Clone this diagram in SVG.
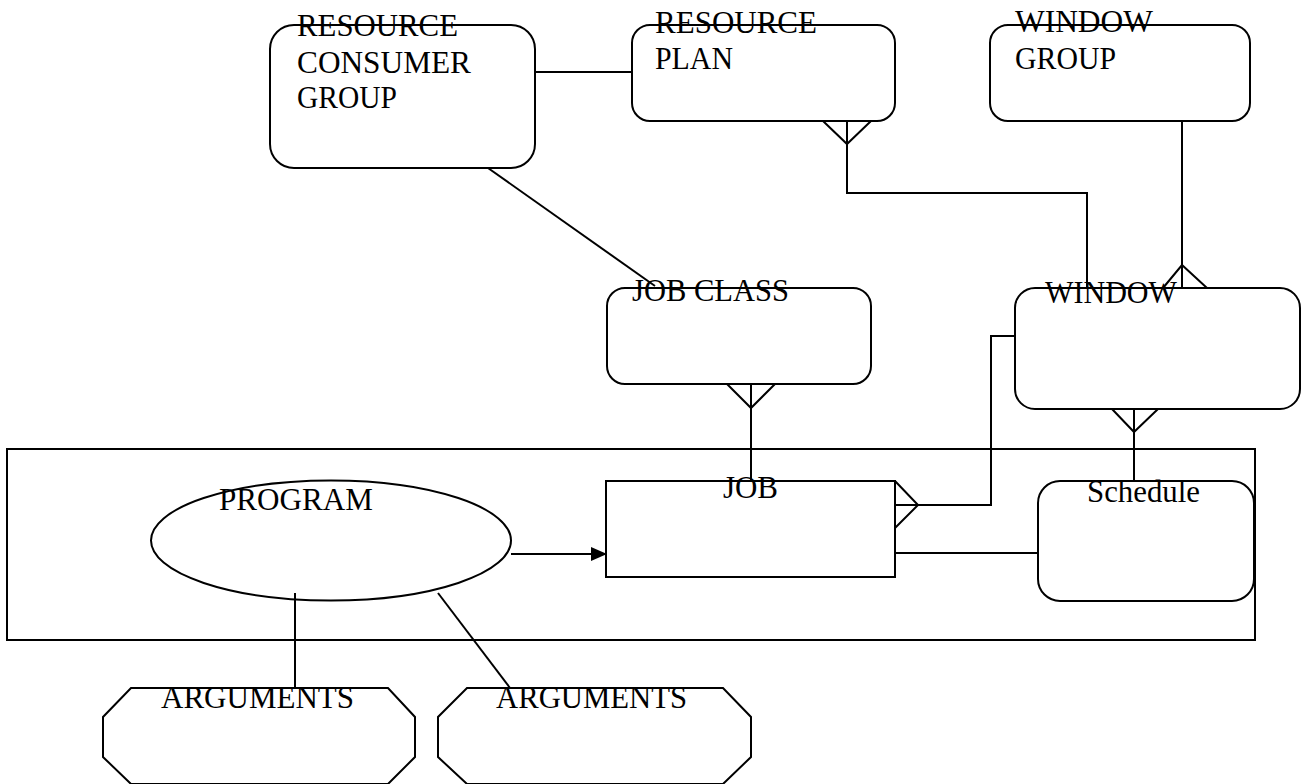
<svg xmlns="http://www.w3.org/2000/svg" width="1309" height="784" viewBox="0 0 1309 784">
<style>
.s{fill:none;stroke:#000;stroke-width:2}
.t{font-family:"Liberation Serif","Times New Roman",serif;font-size:31px;fill:#000}
</style>
<defs>
<marker id="arr" markerWidth="16" markerHeight="14" refX="15" refY="7" orient="auto" markerUnits="userSpaceOnUse">
<path d="M0,0 L16,7 L0,14 Z" fill="#000"/>
</marker>
</defs>
<rect width="1309" height="784" fill="#fff"/>
<g id="frame"><rect x="7" y="449" width="1248" height="191" class="s"/></g>
<g id="connectors">
<line x1="535" y1="72" x2="632" y2="72" class="s"/>
<path d="M847,121 V193 H1087 V288" class="s"/>
<path d="M823,121 L847,144 L871,121" class="s"/>
<path d="M1182,121 V288" class="s"/>
<path d="M1163,288 L1182,265 L1207,288" class="s"/>
<line x1="488" y1="168" x2="655" y2="286" class="s"/>
<path d="M751,384 V481" class="s"/>
<path d="M727,384 L751,408 L775,384" class="s"/>
<path d="M1015,336 H991 V505 H895" class="s"/>
<path d="M895,481 L918,505 L895,528" class="s"/>
<path d="M1134,409 V481" class="s"/>
<path d="M1112,409 L1134,432 L1158,409" class="s"/>
<line x1="895" y1="553" x2="1038" y2="553" class="s"/>
<line x1="511" y1="554" x2="606" y2="554" class="s" marker-end="url(#arr)"/>
<line x1="295" y1="593" x2="295" y2="688" class="s"/>
<line x1="438" y1="593" x2="510" y2="688" class="s"/>
</g>
<g id="rcg">
<rect x="270" y="25" width="265" height="143" rx="24" class="s"/>
<text class="t" x="297" y="36" textLength="161" lengthAdjust="spacingAndGlyphs">RESOURCE</text>
<text class="t" x="297" y="73" textLength="174" lengthAdjust="spacingAndGlyphs">CONSUMER</text>
<text class="t" x="297" y="108" textLength="100" lengthAdjust="spacingAndGlyphs">GROUP</text>
</g>
<g id="rplan">
<rect x="632" y="25" width="263" height="96" rx="18" class="s"/>
<text class="t" x="655" y="33" textLength="162" lengthAdjust="spacingAndGlyphs">RESOURCE</text>
<text class="t" x="655" y="69" textLength="78" lengthAdjust="spacingAndGlyphs">PLAN</text>
</g>
<g id="wgroup">
<rect x="990" y="25" width="260" height="96" rx="18" class="s"/>
<text class="t" x="1015" y="32" textLength="138" lengthAdjust="spacingAndGlyphs">WINDOW</text>
<text class="t" x="1015" y="69" textLength="101" lengthAdjust="spacingAndGlyphs">GROUP</text>
</g>
<g id="jobclass">
<rect x="607" y="288" width="264" height="96" rx="18" class="s"/>
<text class="t" x="632" y="301" textLength="157" lengthAdjust="spacingAndGlyphs">JOB CLASS</text>
</g>
<g id="window">
<rect x="1015" y="288" width="285" height="121" rx="20" class="s"/>
<text class="t" x="1045" y="303" textLength="132" lengthAdjust="spacingAndGlyphs">WINDOW</text>
</g>
<g id="job">
<rect x="606" y="481" width="289" height="96" class="s"/>
<text class="t" x="750.5" y="498" text-anchor="middle">JOB</text>
</g>
<g id="schedule">
<rect x="1038" y="481" width="216" height="120" rx="22" class="s"/>
<text class="t" x="1087" y="502" textLength="113" lengthAdjust="spacingAndGlyphs">Schedule</text>
</g>
<g id="program">
<ellipse cx="331" cy="540.5" rx="180" ry="60" class="s"/>
<text class="t" x="219" y="510" textLength="154" lengthAdjust="spacingAndGlyphs">PROGRAM</text>
</g>
<g id="args1">
<path d="M131,688 H388 L415,717 V757 L388,784 H131 L103,757 V717 Z" class="s"/>
<text class="t" x="161" y="708" textLength="193" lengthAdjust="spacingAndGlyphs">ARGUMENTS</text>
</g>
<g id="args2">
<path d="M467,688 H723 L751,717 V757 L723,784 H467 L438,757 V717 Z" class="s"/>
<text class="t" x="496" y="708" textLength="191" lengthAdjust="spacingAndGlyphs">ARGUMENTS</text>
</g>
</svg>
